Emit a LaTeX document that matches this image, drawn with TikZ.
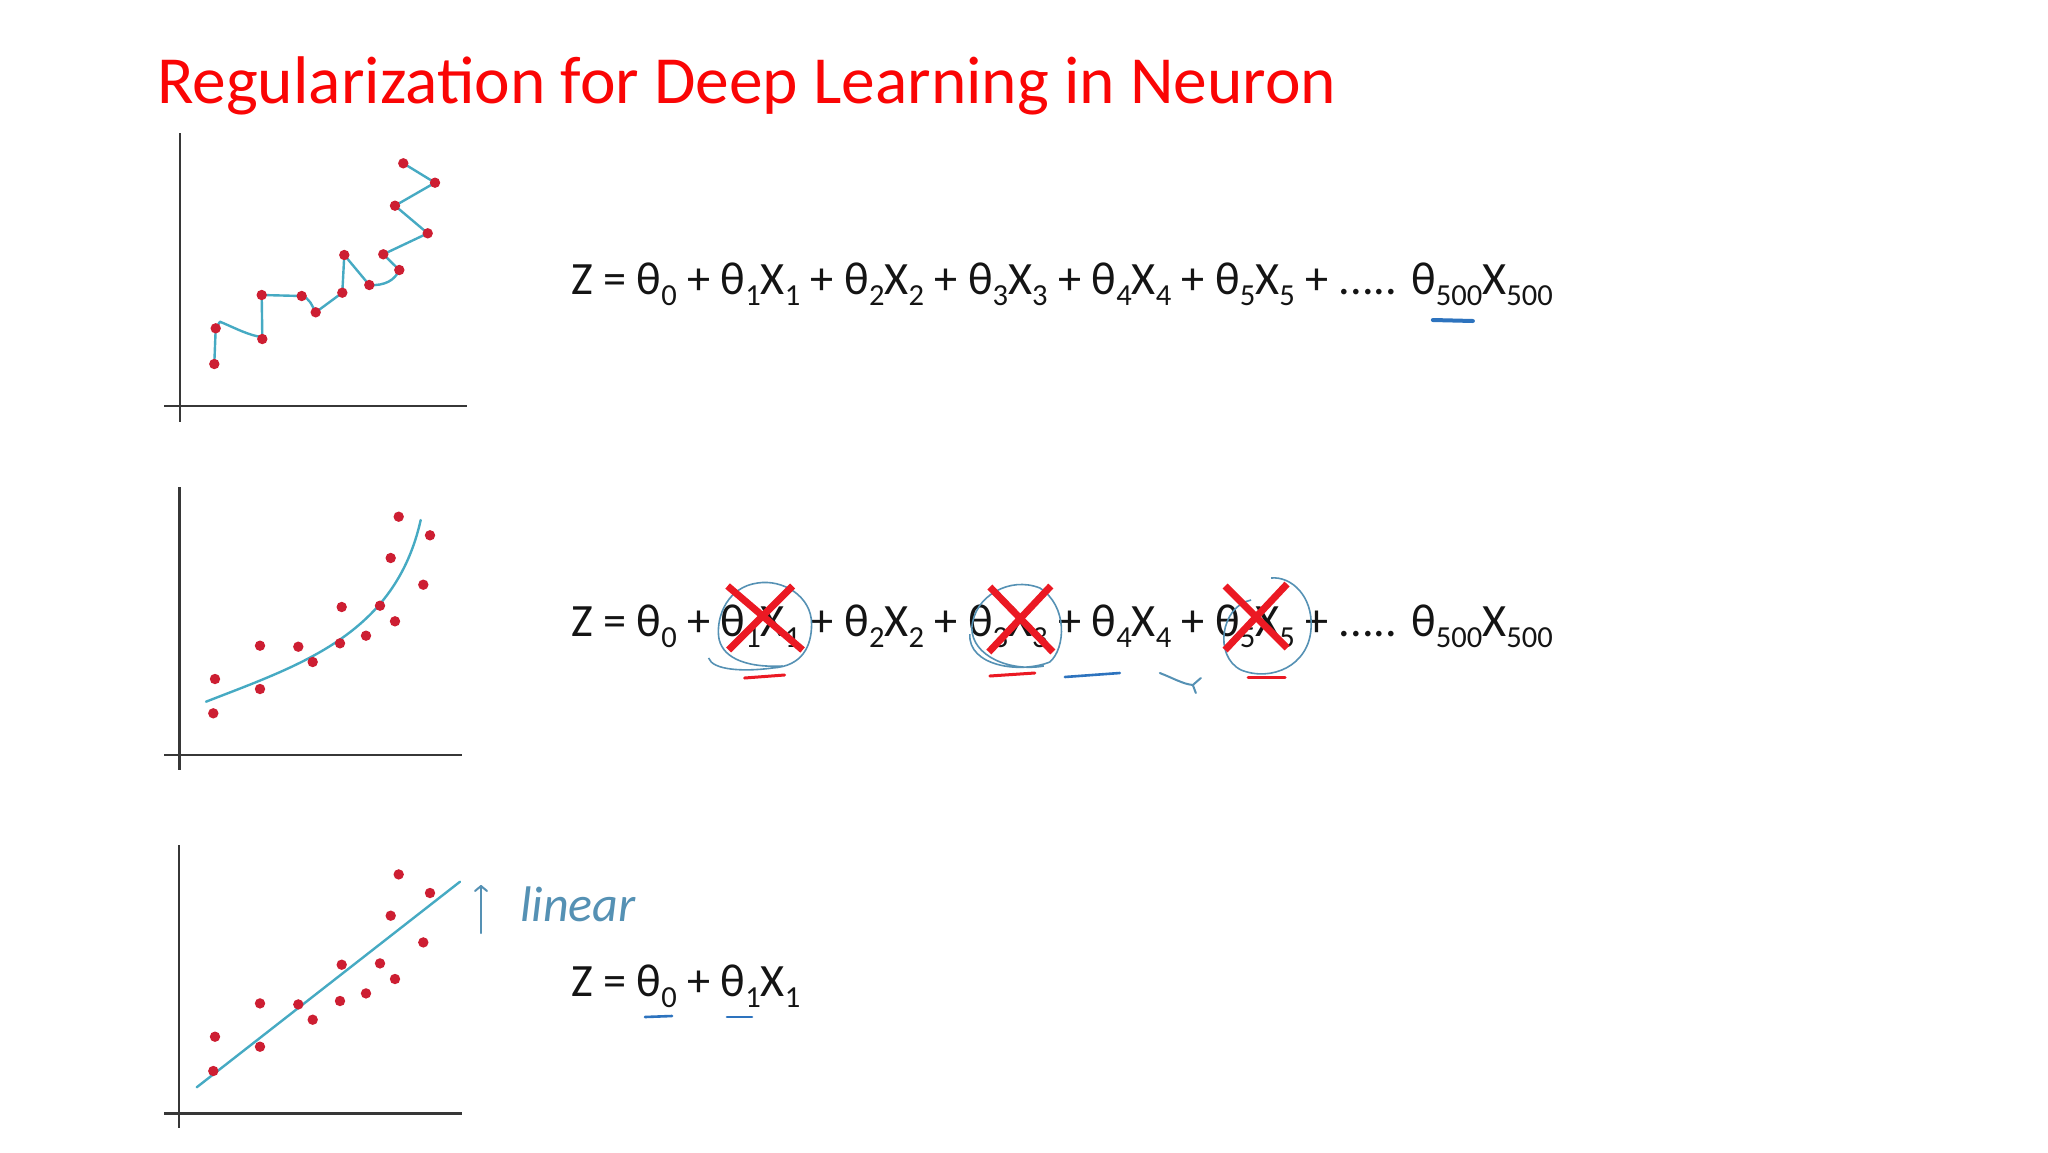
\documentclass[tikz,border=0pt]{standalone}
\usepackage{fontspec}
\setmainfont{Carlito}
\definecolor{titlered}{RGB}{250,5,5}
\definecolor{eqblack}{RGB}{20,20,20}
\definecolor{fitteal}{RGB}{70,170,195}
\definecolor{dotred}{RGB}{205,30,50}
\definecolor{crossred}{RGB}{235,25,35}
\definecolor{circblue}{RGB}{85,145,180}
\definecolor{penblue}{RGB}{45,115,190}
\definecolor{axisgray}{RGB}{55,55,55}
\newcommand{\subsc}[1]{\raisebox{-0.24em}{\scalebox{0.66}{#1}}}
\newcommand{\eqfont}{\fontsize{46.3}{52}\selectfont}
\begin{document}
\begin{tikzpicture}[x=1pt,y=-1pt,
  axisline/.style={draw=axisgray,line width=2.4pt},
  fitline/.style={draw=fitteal,line width=2.4pt,line join=round,line cap=round},
  datadot/.style={fill=dotred},
  crossline/.style={draw=crossred,line width=7pt},
  handcirc/.style={draw=circblue,line width=1.6pt},
  redmark/.style={draw=crossred,line width=3pt,line cap=round},
  bluemark/.style={draw=penblue,line width=2.6pt,line cap=round},
  eqtext/.style={inner sep=0pt,outer sep=0pt,text=eqblack,font=\eqfont},
]
\useasboundingbox (0,0) rectangle (2048,1152);
\fill[white] (0,0) rectangle (2048,1152);

% title
\node[anchor=base west,inner sep=0pt,text=titlered,font=\fontsize{67.4}{74}\selectfont] (title) at (157,103) {Regularization for Deep Learning in Neuron};

% ---------- plot 1 ----------
\draw[axisline] (180,133) -- (180,422);
\draw[axisline] (164,406) -- (467,406);
\draw[fitline] (214.3,364) -- (215.7,328.3) -- (220,321.7) .. controls (235,328) and (250,336) .. (262.3,337)
  -- (261.7,295) -- (301.7,296) .. controls (310,298) and (312,306) .. (315.7,312.3)
  -- (342.3,292.7) -- (344.3,255) -- (369.3,285) .. controls (385,286) and (395,280) .. (399.3,270)
  -- (383.3,254.3) -- (427.7,233.3) -- (395,205.7) -- (435,182.7) -- (403.3,163.3);
\foreach \px/\py in {214.3/364,215.7/328.3,262.3/339,261.7/295,301.7/296,315.7/312.3,342.3/292.7,344.3/255,369.3/285,399.3/270,383.3/254.3,427.7/233.3,395/205.7,435/182.7,403.3/163.3}
  \fill[datadot] (\px,\py) circle[radius=5.2pt];

% ---------- plot 2 ----------
\draw[axisline] (179.3,487) -- (179.3,770);
\draw[axisline] (164,755) -- (462,755);
\draw[fitline] (206,701.7) .. controls (300,665) and (395,635) .. (420.7,520);
\foreach \px/\py in {213.3/713.3,215/679,260/645.7,260/689,298.3/646.7,312.7/662,340/643.3,341.7/607,366/635.7,380/605.7,395/621.3,390.7/558,423.3/584.7,398.7/516.7,430/535.3}
  \fill[datadot] (\px,\py) circle[radius=5.2pt];

% ---------- plot 3 ----------
\draw[axisline] (179,845) -- (179,1128);
\draw[axisline] (164,1113.3) -- (462,1113.3);
\draw[fitline] (196.7,1087.3) -- (460,881.7);
\begin{scope}[shift={(0,357.7)}]
\foreach \px/\py in {213.3/713.3,215/679,260/645.7,260/689,298.3/646.7,312.7/662,340/643.3,341.7/607,366/635.7,380/605.7,395/621.3,390.7/558,423.3/584.7,398.7/516.7,430/535.3}
  \fill[datadot] (\px,\py) circle[radius=5.2pt];
\end{scope}

% linear annotation
\coordinate (arrtail) at (481,933);
\coordinate (arrtip) at (481,886);
\draw[handcirc,line width=2pt,line cap=round] (arrtail) -- (arrtip);
\draw[handcirc,line width=2pt,line cap=round,line join=round] ([shift={(-6,5)}]arrtip) -- (arrtip) -- ([shift={(6,5)}]arrtip);
\node[anchor=base west,inner sep=0pt,text=circblue,font=\itshape\fontsize{50}{56}\selectfont] (lin) at (520,921) {linear};

% ---------- row 1 equation ----------
\node[eqtext,anchor=base west] (r1) at (571,294) {Z = θ\subsc{0} + θ\subsc{1}X\subsc{1} + θ\subsc{2}X\subsc{2} + θ\subsc{3}X\subsc{3} + θ\subsc{4}X\subsc{4} + θ\subsc{5}X\subsc{5} + ..... θ\subsc{500}X\subsc{500}};
\draw[bluemark,line width=4pt] ([shift={(-120,26)}]r1.base east) -- ([shift={(-80,27)}]r1.base east);

% ---------- row 2 equation ----------
\node[eqtext,anchor=base west] (r2a) at (571,636) {Z = θ\subsc{0} +\ \mbox{}};
\node[eqtext,anchor=base west] (t1) at (r2a.base east) {θ\subsc{1}X\subsc{1}};
\node[eqtext,anchor=base west] (r2b) at (t1.base east) {\ + θ\subsc{2}X\subsc{2} +\ \mbox{}};
\node[eqtext,anchor=base west] (t3) at (r2b.base east) {θ\subsc{3}X\subsc{3}};
\node[eqtext,anchor=base west] (r2c) at (t3.base east) {\ + θ\subsc{4}X\subsc{4} +\ \mbox{}};
\node[eqtext,anchor=base west] (t5) at (r2c.base east) {θ\subsc{5}X\subsc{5}};
\node[eqtext,anchor=base west] (r2d) at (t5.base east) {\ + ..... θ\subsc{500}X\subsc{500}};

% term 1 marks
\draw[handcirc] ([shift={(-52,22)}]t1.base) .. controls ([shift={(-48,34)}]t1.base) and ([shift={(-18,36)}]t1.base) .. ([shift={(12,32)}]t1.base)
  .. controls ([shift={(42,30)}]t1.base) and ([shift={(51,10)}]t1.base) .. ([shift={(51,-12)}]t1.base)
  .. controls ([shift={(51,-40)}]t1.base) and ([shift={(22,-57)}]t1.base) .. ([shift={(-3,-53)}]t1.base)
  .. controls ([shift={(-33,-49)}]t1.base) and ([shift={(-44,-20)}]t1.base) .. ([shift={(-42,0)}]t1.base)
  .. controls ([shift={(-40,20)}]t1.base) and ([shift={(-18,32)}]t1.base) .. ([shift={(22,30)}]t1.base);
\draw[crossline] ([shift={(-33,-50)}]t1.base) -- ([shift={(42,14)}]t1.base);
\draw[crossline] ([shift={(32,-50)}]t1.base) -- ([shift={(-32,14)}]t1.base);
\draw[redmark] ([shift={(-16,42)}]t1.base) -- ([shift={(24,39)}]t1.base);

% term 3 marks
\draw[handcirc] ([shift={(-38,-2)}]t3.base) .. controls ([shift={(-40,30)}]t3.base) and ([shift={(12,38)}]t3.base) .. ([shift={(42,26)}]t3.base)
  .. controls ([shift={(58,12)}]t3.base) and ([shift={(60,-30)}]t3.base) .. ([shift={(32,-48)}]t3.base)
  .. controls ([shift={(2,-60)}]t3.base) and ([shift={(-34,-40)}]t3.base) .. ([shift={(-36,-8)}]t3.base)
  .. controls ([shift={(-36,20)}]t3.base) and ([shift={(2,36)}]t3.base) .. ([shift={(36,30)}]t3.base);
\draw[crossline] ([shift={(-18,-49)}]t3.base) -- ([shift={(45,16)}]t3.base);
\draw[crossline] ([shift={(43,-50)}]t3.base) -- ([shift={(-19,16)}]t3.base);
\draw[redmark] ([shift={(-18,40)}]t3.base) -- ([shift={(27,37)}]t3.base);
\draw[bluemark] ([shift={(57,41)}]t3.base) -- ([shift={(112,37)}]t3.base);
\draw[handcirc,line width=2pt,line cap=round,line join=round] ([shift={(152,37)}]t3.base) .. controls ([shift={(165,42)}]t3.base) and ([shift={(175,48)}]t3.base) .. ([shift={(185,49)}]t3.base)
  -- ([shift={(193,42)}]t3.base);
\draw[handcirc,line width=2pt,line cap=round] ([shift={(185,49)}]t3.base) -- ([shift={(188,57)}]t3.base);

% term 5 marks
\draw[handcirc] ([shift={(-4,-36)}]t5.base) .. controls ([shift={(-34,-30)}]t5.base) and ([shift={(-42,20)}]t5.base) .. ([shift={(-14,34)}]t5.base)
  .. controls ([shift={(16,46)}]t5.base) and ([shift={(54,30)}]t5.base) .. ([shift={(56,-8)}]t5.base)
  .. controls ([shift={(58,-40)}]t5.base) and ([shift={(36,-60)}]t5.base) .. ([shift={(16,-58)}]t5.base);
\draw[crossline] ([shift={(-30,-50)}]t5.base) -- ([shift={(32,12)}]t5.base);
\draw[crossline] ([shift={(32,-52)}]t5.base) -- ([shift={(-30,14)}]t5.base);
\draw[redmark] ([shift={(-7,41)}]t5.base) -- ([shift={(30,41)}]t5.base);

% ---------- row 3 equation ----------
\node[eqtext,anchor=base west] (r3) at (571,996) {Z = θ\subsc{0} + θ\subsc{1}X\subsc{1}};
\draw[bluemark] ([shift={(74,21)}]r3.base west) -- ([shift={(101,20)}]r3.base west);
\draw[bluemark] ([shift={(156,21)}]r3.base west) -- ([shift={(181,21)}]r3.base west);
\end{tikzpicture}
\end{document}
